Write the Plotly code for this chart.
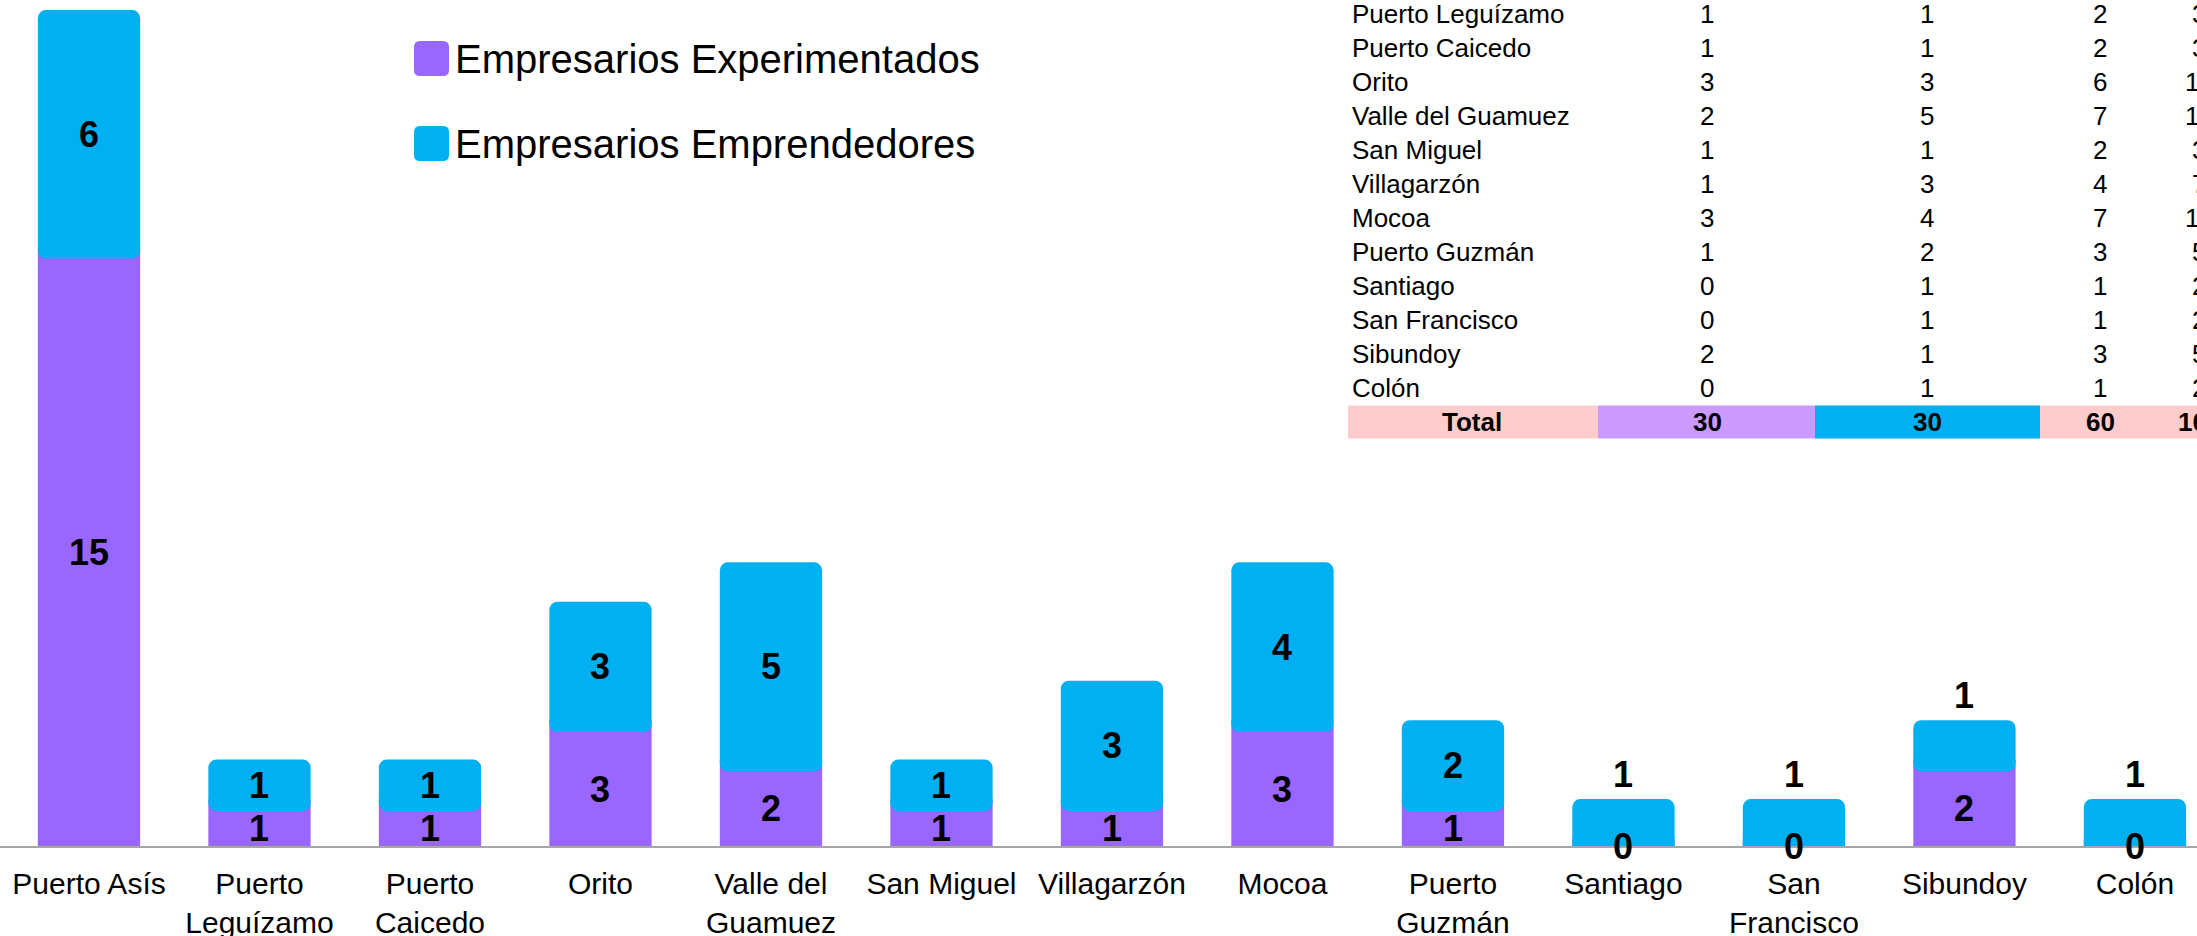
import plotly.graph_objects as go

# ---------------- data ----------------
categories = ["Puerto Asís", "Puerto Leguízamo", "Puerto Caicedo", "Orito",
              "Valle del Guamuez", "San Miguel", "Villagarzón", "Mocoa",
              "Puerto Guzmán", "Santiago", "San Francisco", "Sibundoy", "Colón"]
tick_labels = ["Puerto Asís", "Puerto<br>Leguízamo", "Puerto<br>Caicedo", "Orito",
               "Valle del<br>Guamuez", "San Miguel", "Villagarzón", "Mocoa",
               "Puerto<br>Guzmán", "Santiago", "San<br>Francisco", "Sibundoy", "Colón"]
experimentados = [15, 1, 1, 3, 2, 1, 1, 3, 1, 0, 0, 2, 0]
emprendedores = [6, 1, 1, 3, 5, 1, 3, 4, 2, 1, 1, 1, 1]
series_names = ["Empresarios Experimentados", "Empresarios Emprendedores"]

# style: which blue labels sit above the bar
blue_label_above = [False, False, False, False, False, False, False, False, False,
                    True, True, True, True]

# ---------------- style ----------------
W, H = 2197, 936
MB = 90
PLOT_H = H - MB
PURPLE = "#9966FF"
BLUE = "#00B0F0"
LIGHT_PURPLE = "#CC99FF"
PINK = "#FFCCCC"
FONT = "Liberation Sans, Arial, sans-serif"
Y_MIN, Y_MAX = -0.19, 21.255
OVERLAP = 0.3
DEEP = -0.5

totals = [a + b for a, b in zip(experimentados, emprendedores)]
lows = [(p - OVERLAP) if p > 0 else DEEP for p in experimentados]

fig = go.Figure()
fig.add_trace(go.Bar(
    x=categories, y=[p - DEEP for p in experimentados], base=[DEEP] * len(categories),
    name=series_names[0], marker=dict(color=PURPLE, line=dict(width=0)),
    width=0.6, hoverinfo="skip"))
fig.add_trace(go.Bar(
    x=categories, y=[t - lo for t, lo in zip(totals, lows)], base=lows,
    name=series_names[1], marker=dict(color=BLUE, line=dict(width=0), cornerradius=8),
    width=0.6, hoverinfo="skip"))

annotations = []
label_font = dict(family=FONT, size=36, color="black")
for i, c in enumerate(categories):
    p, e, t, lo = experimentados[i], emprendedores[i], totals[i], lows[i]
    bound = lo if p > 0 else Y_MIN
    annotations.append(dict(x=c, y=(Y_MIN + bound) / 2, xref="x", yref="y",
                            text="<b>%d</b>" % p, showarrow=False,
                            font=label_font, yanchor="middle"))
    if blue_label_above[i]:
        annotations.append(dict(x=c, y=t, xref="x", yref="y", text="<b>%d</b>" % e,
                                showarrow=False, font=label_font, yanchor="middle",
                                yshift=25))
    else:
        annotations.append(dict(x=c, y=(bound + t) / 2, xref="x", yref="y",
                                text="<b>%d</b>" % e, showarrow=False,
                                font=label_font, yanchor="middle"))


def px_x(px):
    return px / W


def px_y(py):
    return 1 - py / PLOT_H


shapes = []


# ---------------- custom legend ----------------
def rounded_rect(x0, y0, x1, y1, r):
    pts = [
        ("M", (x0 + r, y0)), ("L", (x1 - r, y0)), ("Q", (x1, y0), (x1, y0 + r)),
        ("L", (x1, y1 - r)), ("Q", (x1, y1), (x1 - r, y1)), ("L", (x0 + r, y1)),
        ("Q", (x0, y1), (x0, y1 - r)), ("L", (x0, y0 + r)), ("Q", (x0, y0), (x0 + r, y0)),
    ]
    s = ""
    for item in pts:
        s += item[0] + " ".join("%f,%f" % (px_x(a), px_y(b)) for a, b in item[1:]) + " "
    return s + "Z"


legend_rows = [59, 144]
legend_colors = [PURPLE, BLUE]
for name, col, yc in zip(series_names, legend_colors, legend_rows):
    shapes.append(dict(type="path", xref="paper", yref="paper",
                       path=rounded_rect(414, yc - 18, 449, yc + 17, 6),
                       fillcolor=col, line=dict(width=0)))
    annotations.append(dict(x=px_x(453), y=px_y(yc), xref="paper", yref="paper",
                            text=name, showarrow=False, xanchor="left", yanchor="middle",
                            font=dict(family=FONT, size=40, color="black")))

# ---------------- table (top right, partly cropped) ----------------
tot_exp = sum(experimentados)
tot_emp = sum(emprendedores)
tot_all = sum(totals)
pcts = [round(t / tot_all * 100) for t in totals]
col_x = [1707, 1927, 2100, 2199]
ROW0, ROWH = 14, 34
tfont = dict(family=FONT, size=26, color="black")
for i, c in enumerate(categories):
    yc = ROW0 + ROWH * (i - 1)
    annotations.append(dict(x=px_x(1350), y=px_y(yc), xref="paper", yref="paper",
                            text=c, showarrow=False, xanchor="left", yanchor="middle",
                            font=tfont))
    for cx, v in zip(col_x, [experimentados[i], emprendedores[i], totals[i], pcts[i]]):
        annotations.append(dict(x=px_x(cx), y=px_y(yc), xref="paper", yref="paper",
                                text=str(v), showarrow=False, xanchor="center",
                                yanchor="middle", font=tfont))

ty = ROW0 + ROWH * (len(categories) - 1)
cells = [(1348, 1598, PINK), (1598, 1815, LIGHT_PURPLE), (1815, 2040, BLUE), (2040, 2400, PINK)]
for x0, x1, col in cells:
    shapes.append(dict(type="rect", xref="paper", yref="paper",
                       x0=px_x(x0), x1=px_x(x1), y0=px_y(ty + 16.5), y1=px_y(ty - 16.5),
                       fillcolor=col, line=dict(width=0), layer="below"))
for cx, v in zip([1472] + col_x, ["Total", tot_exp, tot_emp, tot_all, 100]):
    annotations.append(dict(x=px_x(cx), y=px_y(ty), xref="paper", yref="paper",
                            text="<b>%s</b>" % v, showarrow=False, xanchor="center",
                            yanchor="middle", font=tfont))

fig.update_layout(
    width=W, height=H,
    margin=dict(l=0, r=0, t=0, b=MB, pad=0),
    barmode="overlay",
    showlegend=False,
    plot_bgcolor="white", paper_bgcolor="white",
    font=dict(family=FONT, color="black"),
    xaxis=dict(type="category", range=[-0.522, 12.364], tickmode="array",
               tickvals=categories, ticktext=tick_labels, showline=True,
               linecolor="#A6A6A6", linewidth=2, ticks="", showgrid=False,
               zeroline=False, ticklabelstandoff=10, automargin=False,
               tickfont=dict(family=FONT, size=30, color="black")),
    yaxis=dict(visible=False, range=[Y_MIN, Y_MAX], showgrid=False, zeroline=False,
               automargin=False),
    annotations=annotations,
    shapes=shapes,
)

fig.write_html(
    "out.html",
    config={"displayModeBar": False},
    post_script="document.body.style.margin='0';document.documentElement.style.overflow='hidden';",
)
